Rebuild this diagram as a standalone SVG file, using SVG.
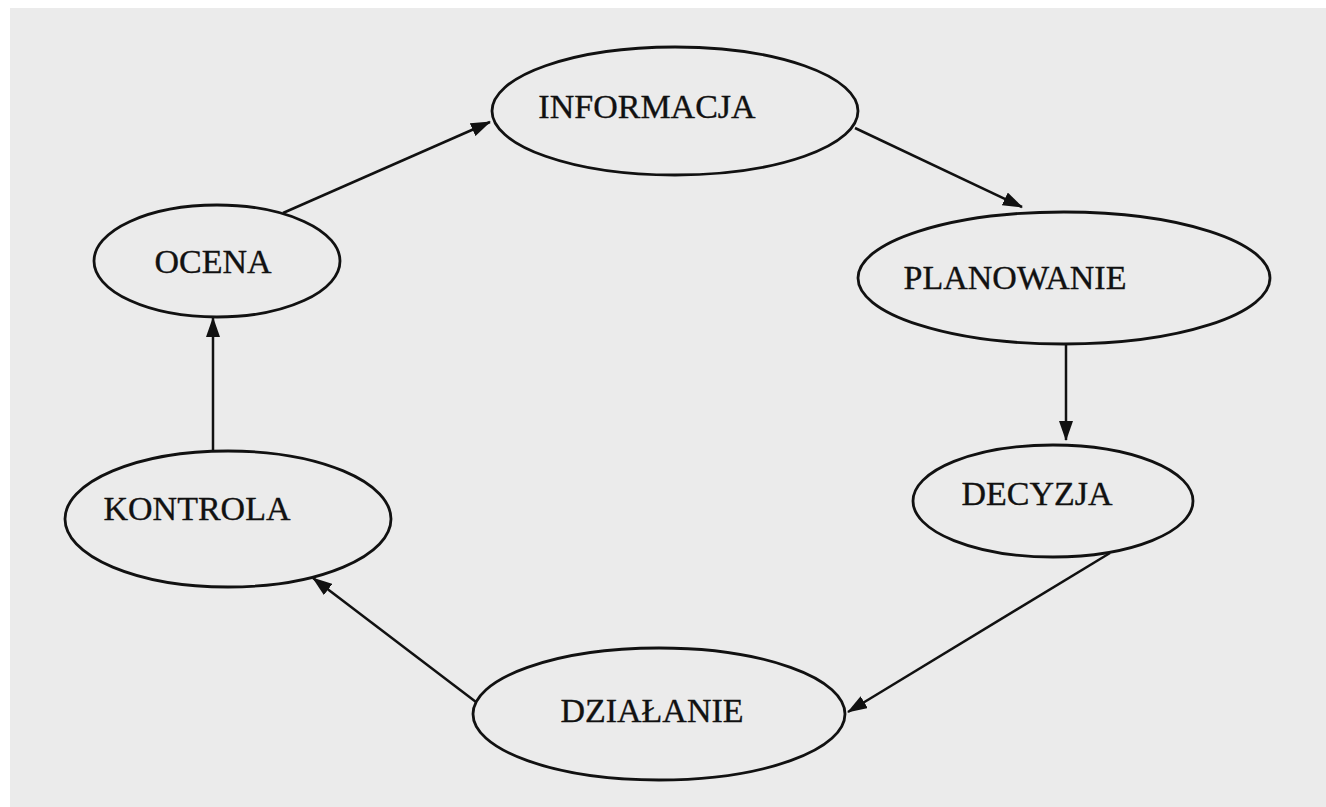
<svg xmlns="http://www.w3.org/2000/svg" width="1326" height="807" viewBox="0 0 1326 807">
<style>
.node ellipse{fill:none;stroke:#111;stroke-width:2.8}
.node text{font-family:"Liberation Serif","Times New Roman",serif;font-size:34px;fill:#111;stroke:#111;stroke-width:0.35;text-anchor:middle}
.conn line{stroke:#111;stroke-width:2.5;marker-end:url(#ah)}
</style>
<defs>
<marker id="ah" markerUnits="userSpaceOnUse" markerWidth="20" markerHeight="14" refX="19" refY="7" orient="auto">
<path d="M0,0 L20,7 L0,14 Z" fill="#111"/>
</marker>
</defs>
<rect x="0" y="0" width="1326" height="807" fill="#ffffff"/>
<rect x="10" y="8" width="1316" height="799" fill="#ebebeb"/>
<g id="connectors" class="conn">
<line x1="283" y1="213" x2="490" y2="122"/>
<line x1="855" y1="128" x2="1022" y2="207"/>
<line x1="1066" y1="344" x2="1066" y2="440"/>
<line x1="1110" y1="553" x2="848" y2="712"/>
<line x1="476" y1="702" x2="313" y2="578"/>
<line x1="213" y1="452" x2="213" y2="318"/>
</g>
<g id="informacja" class="node"><ellipse cx="675" cy="111" rx="183" ry="64"/><text x="647" y="118">INFORMACJA</text></g>
<g id="ocena" class="node"><ellipse cx="217" cy="261" rx="123" ry="56"/><text x="213" y="273">OCENA</text></g>
<g id="planowanie" class="node"><ellipse cx="1064" cy="278" rx="206" ry="66"/><text x="1015" y="289">PLANOWANIE</text></g>
<g id="decyzja" class="node"><ellipse cx="1053" cy="501" rx="140" ry="56"/><text x="1037" y="505">DECYZJA</text></g>
<g id="kontrola" class="node"><ellipse cx="228" cy="519" rx="163" ry="68"/><text x="197" y="520">KONTROLA</text></g>
<g id="dzialanie" class="node"><ellipse cx="659" cy="714" rx="186" ry="66"/><text x="652" y="722">DZIAŁANIE</text></g>
</svg>
